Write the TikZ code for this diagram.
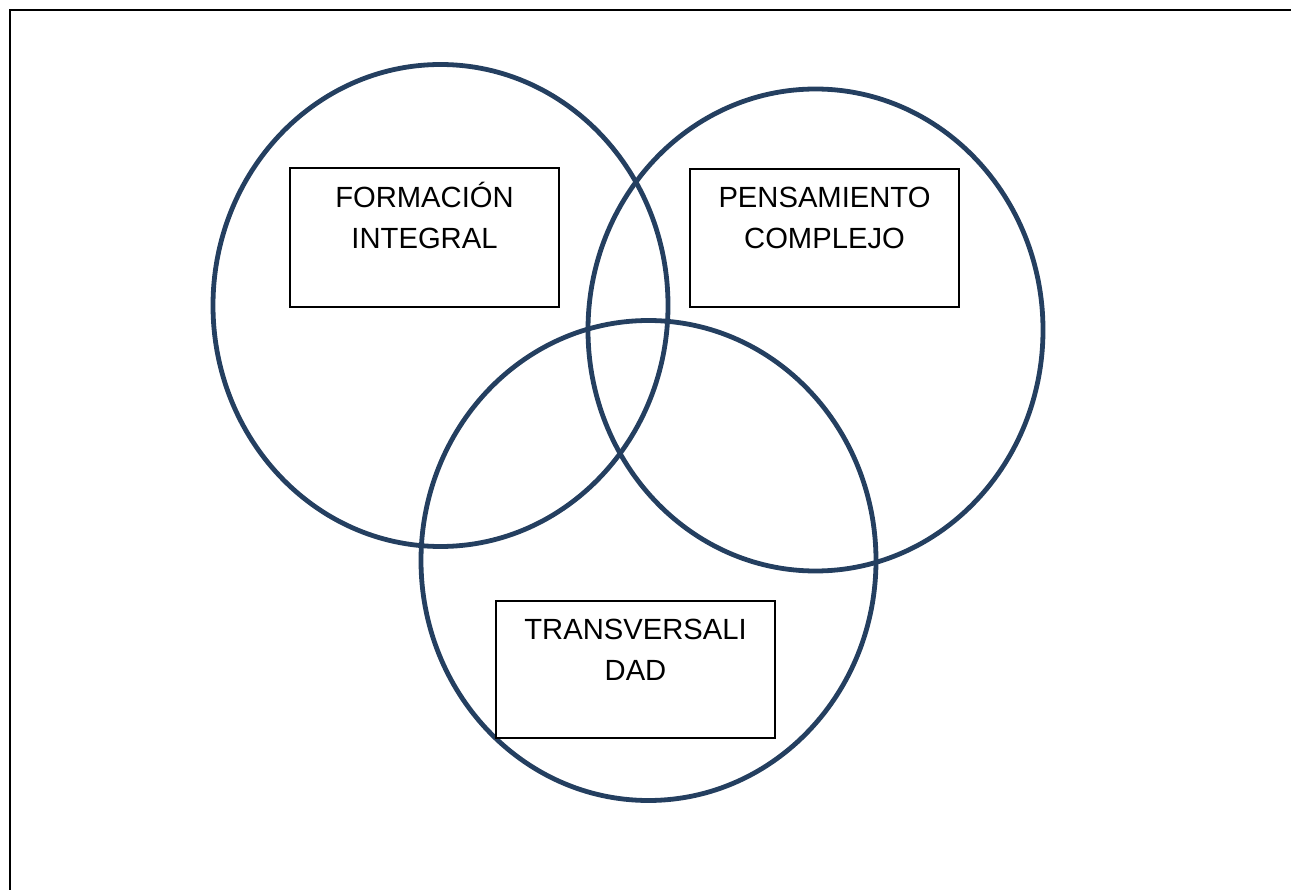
\documentclass[tikz,border=0pt]{standalone}
\usepackage{fontspec}
\setmainfont{Liberation Sans}
\definecolor{ring}{HTML}{243F60}
\begin{document}
\begin{tikzpicture}[x=1pt,y=-1pt,
  ringstyle/.style={draw=ring,line width=4.8pt},
  boxstyle/.style={draw=black,line width=1.8pt,fill=white,rectangle,inner sep=0pt},
  lbl/.style={align=center,inner sep=0pt,font=\fontsize{29.2}{40.5}\selectfont}]
\useasboundingbox (0,0) rectangle (1291,890);
\draw[line width=2.4pt] (10,890) -- (10,10) -- (1291,10);
\draw[ringstyle] (440.5,305.5) ellipse [x radius=227.5, y radius=241];
\draw[ringstyle] (815.5,330) ellipse [x radius=227.5, y radius=241];
\draw[ringstyle] (648.5,560.5) ellipse [x radius=227.5, y radius=240];
\node[boxstyle,minimum width=269pt,minimum height=139pt] (fi) at (424.5,237.5) {};
\node[boxstyle,minimum width=269pt,minimum height=138pt] (pc) at (824.5,238) {};
\node[boxstyle,minimum width=279pt,minimum height=137pt] (tr) at (635.5,669.5) {};
\node[lbl,anchor=north] (fit) at ([yshift=-15pt]fi.north) {FORMACIÓN\\INTEGRAL};
\node[lbl,anchor=north] (pct) at ([yshift=-19pt]pc.north) {PENSAMIENTO\\COMPLEJO};
\node[lbl,anchor=north] (trt) at ([yshift=-19pt]tr.north) {TRANSVERSALI\\DAD};
\end{tikzpicture}
\end{document}
